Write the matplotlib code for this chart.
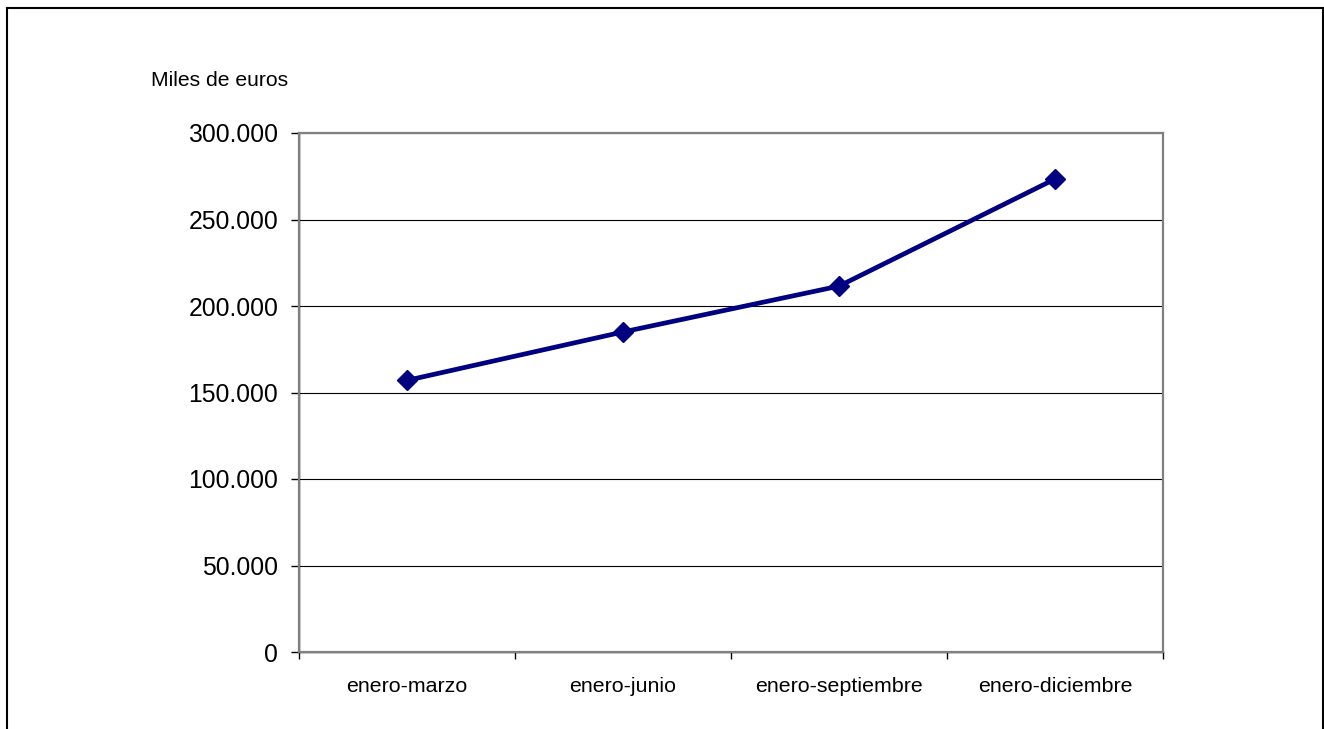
import matplotlib.pyplot as plt
from matplotlib.patches import Rectangle
from matplotlib.ticker import FuncFormatter

# data
categories = ['enero-marzo', 'enero-junio', 'enero-septiembre', 'enero-diciembre']
values = [157000, 185000, 211500, 273400]
y_ticks = [0, 50000, 100000, 150000, 200000, 250000, 300000]

plt.rcParams['font.family'] = ['Liberation Sans', 'DejaVu Sans']

fig = plt.figure(figsize=(13.24, 7.29), dpi=100)
ax = fig.add_axes([299 / 1324, 1 - 652 / 729, 864 / 1324, 519 / 729])

# outer chart border
fig.patches.append(Rectangle((7 / 1324, -0.05), 1316 / 1324, 1 - 8 / 729 + 0.05,
                             transform=fig.transFigure, fill=False,
                             edgecolor='black', linewidth=1.5))

x = list(range(len(categories)))
ax.plot(x, values, color='#000080', linewidth=3.4, marker='D', markersize=10,
        zorder=3)

ax.set_xlim(-0.5, len(categories) - 0.5)
ax.set_ylim(0, 300000)
ax.set_yticks(y_ticks)
ax.yaxis.set_major_formatter(FuncFormatter(
    lambda v, p: '0' if v == 0 else f'{int(v):,}'.replace(',', '.')))
ax.tick_params(axis='y', labelsize=17.8, length=6, width=1, pad=9, direction='out')

# category labels centred, ticks on the boundaries
ax.set_xticks([i - 0.5 for i in range(len(categories) + 1)])
ax.set_xticklabels([])
ax.set_xticks(x, minor=True)
ax.set_xticklabels(categories, minor=True, fontsize=15.4)
ax.tick_params(axis='x', which='major', length=5, width=1, direction='out')
ax.tick_params(axis='x', which='minor', length=0, pad=18)

ax.grid(axis='y', color='black', linewidth=0.8)
ax.set_axisbelow(True)
for s in ax.spines.values():
    s.set_color('#808080')
    s.set_linewidth(1.6)
ax.axhline(0, color='black', linewidth=1, clip_on=False, zorder=2)
ax.axvline(-0.5, color='black', linewidth=1, clip_on=False, zorder=2)

fig.text(151 / 1324, 1 - 80 / 729, 'Miles de euros', fontsize=15.2,
         ha='left', va='center')

fig.savefig('out.png', dpi=100)
